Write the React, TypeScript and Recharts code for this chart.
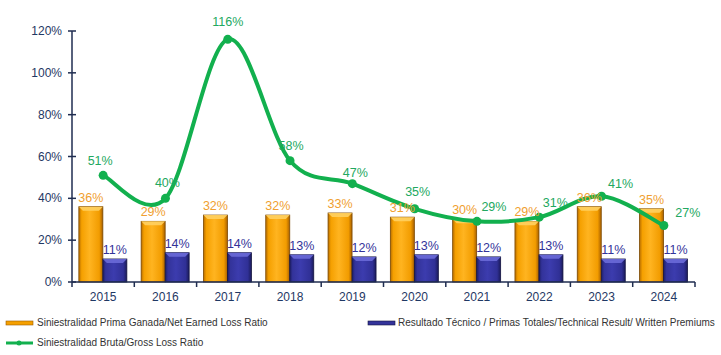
import { Bar, ComposedChart, LabelList, Line, XAxis, YAxis } from "recharts";

const years = ["2015", "2016", "2017", "2018", "2019", "2020", "2021", "2022", "2023", "2024"];
const netEarnedLoss = [36, 29, 32, 32, 33, 31, 30, 29, 36, 35];
const technicalResult = [11, 14, 14, 13, 12, 13, 12, 13, 11, 11];
const grossLoss = [51, 40, 116, 58, 47, 35, 29, 31, 41, 27];
const yTicks = [0, 20, 40, 60, 80, 100, 120];

const data = years.map((year, i) => ({
  year,
  net: netEarnedLoss[i],
  tech: technicalResult[i],
  gross: grossLoss[i],
}));

// label nudges for the green line labels (px)
const lineLabelDx = [-3, 2, 0, 1, 3, 3, 17, 16, 19, 24];
const lineLabelDy = [-14, -15, -17, -15, -11, -17, -14, -14, -12, -13];

const W = 721;
const H = 355;
const M = { top: 31, right: 26, bottom: 43, left: 0 };
const Y_W = 72;
const BAND = (W - Y_W - M.right) / years.length;

const AXIS = "#1f2d50";
const TICK_TXT = "#1f3864";
const ORANGE_TXT = "#f0a030";
const BLUE_TXT = "#333399";
const GREEN = "#12b04e";
const GREEN_TXT = "#22a860";
const FONT = "'Liberation Sans', Arial, sans-serif";

// Excel-like smooth line (Catmull-Rom through the points)
const excelSmooth = (context: any) => {
  let pts: [number, number][] = [];
  return {
    areaStart() {},
    areaEnd() {},
    lineStart() {
      pts = [];
    },
    lineEnd() {
      const n = pts.length;
      if (!n) return;
      context.moveTo(pts[0][0], pts[0][1]);
      for (let i = 0; i < n - 1; i++) {
        const p0 = pts[Math.max(0, i - 1)];
        const p1 = pts[i];
        const p2 = pts[i + 1];
        const p3 = pts[Math.min(n - 1, i + 2)];
        context.bezierCurveTo(
          p1[0] + (p2[0] - p0[0]) / 6,
          p1[1] + (p2[1] - p0[1]) / 6,
          p2[0] - (p3[0] - p1[0]) / 6,
          p2[1] - (p3[1] - p1[1]) / 6,
          p2[0],
          p2[1]
        );
      }
    },
    point(x: number, y: number) {
      pts.push([x, y]);
    },
  };
};

const BevelBar = (props: any) => {
  const { x, y, width, height, kind } = props;
  if (!height || height <= 0) return null;
  const b = Math.min(4, width / 4);
  const side = kind === "net" ? "url(#orangeSide)" : "url(#blueSide)";
  const top = kind === "net" ? "#ffd060" : "#6a6ad8";
  const edge = kind === "net" ? "#7a4800" : "#141440";
  return (
    <g>
      <rect x={x} y={y} width={width} height={height} fill={side} stroke={edge} strokeWidth={0.8} />
      <polygon
        points={`${x},${y} ${x + width},${y} ${x + width - b},${y + b} ${x + b},${y + b}`}
        fill={top}
        opacity={0.9}
      />
    </g>
  );
};

const XTick = (props: any) => {
  const { x, y, payload, index } = props;
  return (
    <g>
      <line x1={x + BAND / 2} x2={x + BAND / 2} y1={y} y2={y + 5} stroke={AXIS} strokeWidth={1.5} />
      {index === 0 && <line x1={x - BAND / 2} x2={x - BAND / 2} y1={y} y2={y + 5} stroke={AXIS} strokeWidth={1.5} />}
      <text x={x} y={y + 19} textAnchor="middle" fontSize={12} fill={TICK_TXT} fontFamily={FONT}>
        {payload.value}
      </text>
    </g>
  );
};

const YTick = (props: any) => {
  const { x, y, payload } = props;
  return (
    <g>
      <line x1={x - 4} x2={x + 4} y1={y} y2={y} stroke={AXIS} strokeWidth={1.5} />
      <text x={x - 10} y={y + 4} textAnchor="end" fontSize={12} fill={TICK_TXT} fontFamily={FONT}>
        {payload.value}%
      </text>
    </g>
  );
};

const LineLabel = (props: any) => {
  const { x, y, value, index } = props;
  return (
    <text
      x={x + lineLabelDx[index]}
      y={y + lineLabelDy[index] + 4}
      textAnchor="middle"
      fontSize={12.5}
      fill={GREEN_TXT}
      fontFamily={FONT}
    >
      {value}%
    </text>
  );
};

const Swatch = ({ kind }: { kind: string }) => {
  if (kind === "line") {
    return (
      <svg width={30} height={8} style={{ verticalAlign: "middle" }}>
        <line x1={2} x2={29} y1={4} y2={4} stroke={GREEN} strokeWidth={3} />
        <circle cx={15} cy={4} r={2.5} fill={GREEN} />
      </svg>
    );
  }
  const fill = kind === "net" ? "#f5a000" : "#33339a";
  const edge = kind === "net" ? "#9a5a00" : "#141440";
  return (
    <svg width={30} height={8} style={{ verticalAlign: "middle" }}>
      <rect x={2} y={2} width={27} height={4} fill={fill} stroke={edge} strokeWidth={0.6} />
    </svg>
  );
};

const legendText = { fontSize: 10, color: "#333", fontFamily: FONT, whiteSpace: "nowrap" as const };

export default function App() {
  return (
    <div style={{ position: "absolute", left: 0, top: 0, width: W, height: H, background: "#fff" }}>
      <ComposedChart
        width={W}
        height={H}
        data={data}
        margin={M}
        barCategoryGap="11%"
        barGap={0}
      >
        <defs>
          <linearGradient id="orangeSide" x1="0" y1="0" x2="1" y2="0">
            <stop offset="0%" stopColor="#b86e00" />
            <stop offset="12%" stopColor="#f5a000" />
            <stop offset="45%" stopColor="#ffb420" />
            <stop offset="85%" stopColor="#f29c00" />
            <stop offset="100%" stopColor="#a86000" />
          </linearGradient>
          <linearGradient id="blueSide" x1="0" y1="0" x2="1" y2="0">
            <stop offset="0%" stopColor="#1e1e66" />
            <stop offset="12%" stopColor="#33339a" />
            <stop offset="45%" stopColor="#3c3cae" />
            <stop offset="85%" stopColor="#303096" />
            <stop offset="100%" stopColor="#1a1a5a" />
          </linearGradient>
        </defs>
        <XAxis
          dataKey="year"
          stroke={AXIS}
          strokeWidth={1.5}
          tickLine={false}
          tickSize={0}
          tickMargin={0}
          height={30}
          tick={<XTick />}
          interval={0}
        />
        <YAxis
          domain={[0, 120]}
          ticks={yTicks}
          width={Y_W}
          stroke={AXIS}
          strokeWidth={1.5}
          tickLine={false}
          tickSize={0}
          tickMargin={0}
          tick={<YTick />}
          interval={0}
        />
        <Bar dataKey="net" shape={(p: any) => <BevelBar {...p} kind="net" />} isAnimationActive={false}>
          <LabelList
            dataKey="net"
            position="top"
            offset={5}
            formatter={(v: any) => `${v}%`}
            fill={ORANGE_TXT}
            fontSize={12.5}
            fontFamily={FONT}
          />
        </Bar>
        <Bar dataKey="tech" shape={(p: any) => <BevelBar {...p} kind="tech" />} isAnimationActive={false}>
          <LabelList
            dataKey="tech"
            position="top"
            offset={5}
            formatter={(v: any) => `${v}%`}
            fill={BLUE_TXT}
            fontSize={12.5}
            fontFamily={FONT}
          />
        </Bar>
        <Line
          dataKey="gross"
          type={excelSmooth as any}
          stroke={GREEN}
          strokeWidth={4}
          dot={{ r: 4.5, fill: GREEN, stroke: GREEN, strokeWidth: 0 }}
          activeDot={false}
          isAnimationActive={false}
        >
          <LabelList dataKey="gross" content={<LineLabel />} />
        </Line>
      </ComposedChart>
      <div style={{ position: "absolute", left: 4, top: 317, display: "flex", alignItems: "center", ...legendText }}>
        <Swatch kind="net" />
        <span style={{ marginLeft: 3 }}>Siniestralidad Prima Ganada/Net Earned Loss Ratio</span>
      </div>
      <div style={{ position: "absolute", left: 366, top: 317, display: "flex", alignItems: "center", ...legendText }}>
        <Swatch kind="tech" />
        <span style={{ marginLeft: 2 }}>Resultado Técnico / Primas Totales/Technical Result/ Written Premiums</span>
      </div>
      <div style={{ position: "absolute", left: 4, top: 337, display: "flex", alignItems: "center", ...legendText }}>
        <Swatch kind="line" />
        <span style={{ marginLeft: 3 }}>Siniestralidad Bruta/Gross Loss Ratio</span>
      </div>
    </div>
  );
}
